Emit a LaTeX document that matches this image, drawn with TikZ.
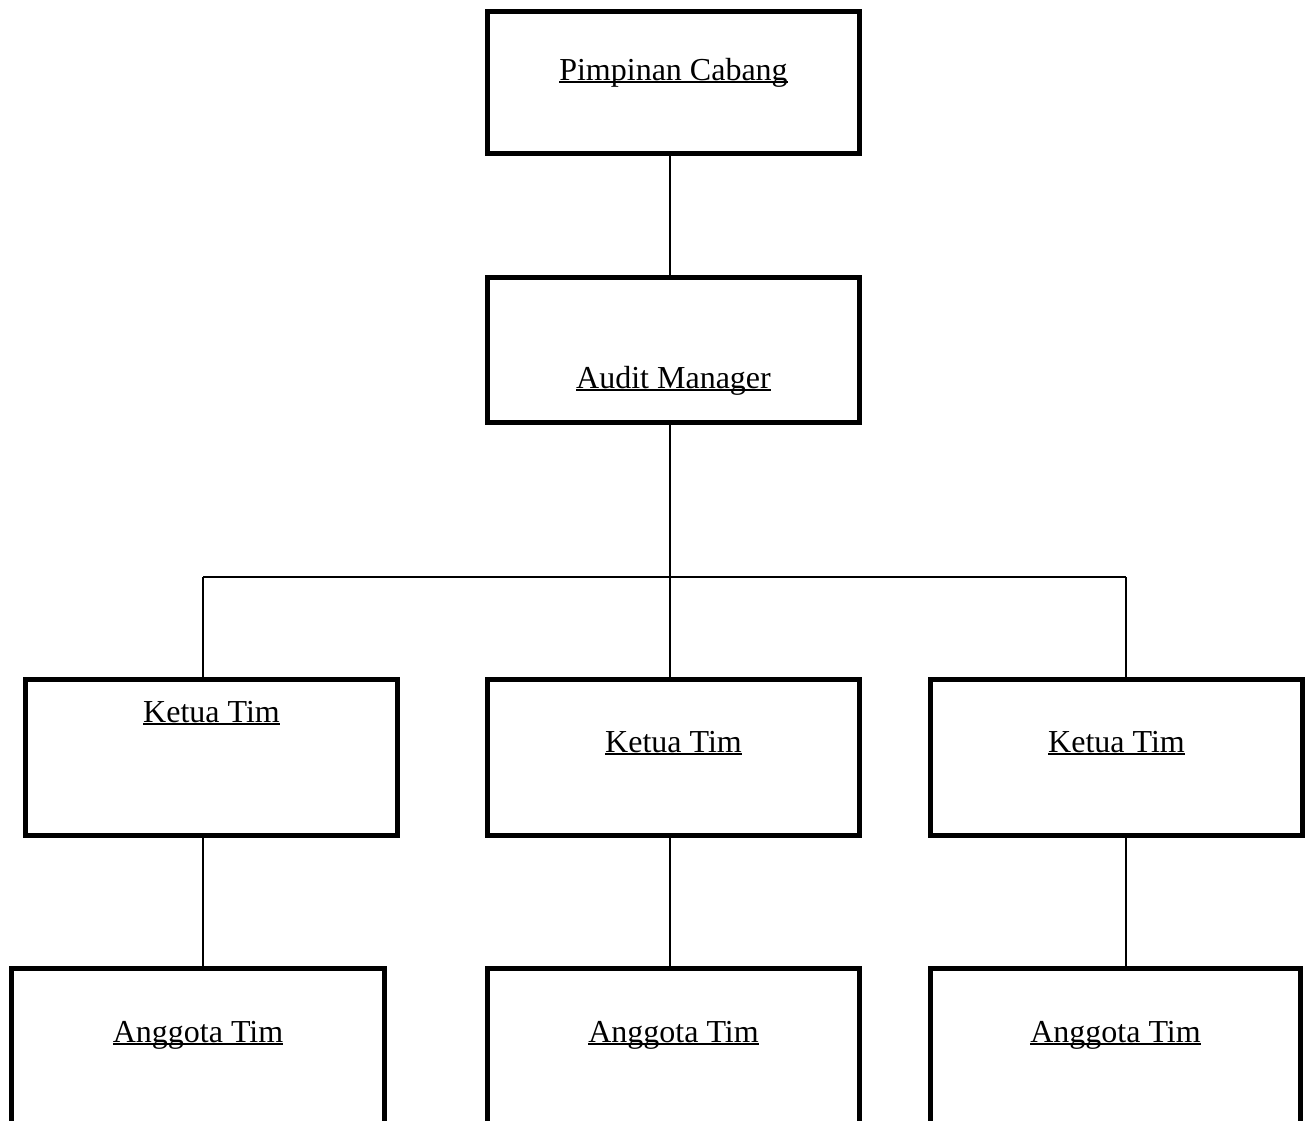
\documentclass[tikz,border=0pt]{standalone}
\usepackage{fontspec}
\setmainfont{Liberation Serif}
\newcommand{\ulx}[1]{\setbox0\hbox{#1}\rlap{\rule[-1.7pt]{\wd0}{1pt}}\box0}
\begin{document}
\begin{tikzpicture}[x=0.5pt,y=-0.5pt,
  box/.style={draw=black, line width=2.6pt, fill=white, rectangle, inner sep=0pt, outer sep=0pt, minimum width=186pt},
  txt/.style={anchor=base, inner sep=0pt, font=\fontsize{16pt}{19pt}\selectfont},
  link/.style={draw=black, line width=0.9pt}]
\clip (0,0) rectangle (1309,1120);
\fill[white] (0,0) rectangle (1309,1120);
% boxes
\node[box, minimum height=71pt] (P) at (673.5,82.5) {};
\node[box, minimum height=72.5pt] (A) at (673.5,350) {};
\node[box, minimum height=78pt] (K1) at (211.5,757.5) {};
\node[box, minimum height=78pt] (K2) at (673.5,757.5) {};
\node[box, minimum height=78pt] (K3) at (1116.5,757.5) {};
\node[box, minimum height=100pt, minimum width=186.5pt] (G1) at (198,1068.5) {};
\node[box, minimum height=100pt] (G2) at (673.5,1068.5) {};
\node[box, minimum height=100pt, minimum width=185pt] (G3) at (1115.5,1068.5) {};
% texts
\node[txt] (tP) at (673.5,80) {\ulx{Pimpinan Cabang}};
\node[txt] (tA) at (673.5,388) {\ulx{Audit Manager}};
\node[txt] (tK1) at (211.5,722) {\ulx{Ketua Tim}};
\node[txt] (tK2) at (673.5,752) {\ulx{Ketua Tim}};
\node[txt] (tK3) at (1116.5,752) {\ulx{Ketua Tim}};
\node[txt] (tG1) at (198,1042) {\ulx{Anggota Tim}};
\node[txt] (tG2) at (673.5,1042) {\ulx{Anggota Tim}};
\node[txt] (tG3) at (1115.5,1042) {\ulx{Anggota Tim}};
% junctions
\coordinate (jl) at (203,577);
\coordinate (jm) at (670,577);
\coordinate (jr) at (1126,577);
% connectors
\draw[link] (P.south -| jm) -- (A.north -| jm);
\draw[link] (A.south -| jm) -- (jm);
\draw[link] (jl) -- (jr);
\draw[link] (jl) -- (K1.north -| jl);
\draw[link] (jm) -- (K2.north -| jm);
\draw[link] (jr) -- (K3.north -| jr);
\draw[link] (K1.south -| jl) -- (G1.north -| jl);
\draw[link] (K2.south -| jm) -- (G2.north -| jm);
\draw[link] (K3.south -| jr) -- (G3.north -| jr);
\end{tikzpicture}
\end{document}
